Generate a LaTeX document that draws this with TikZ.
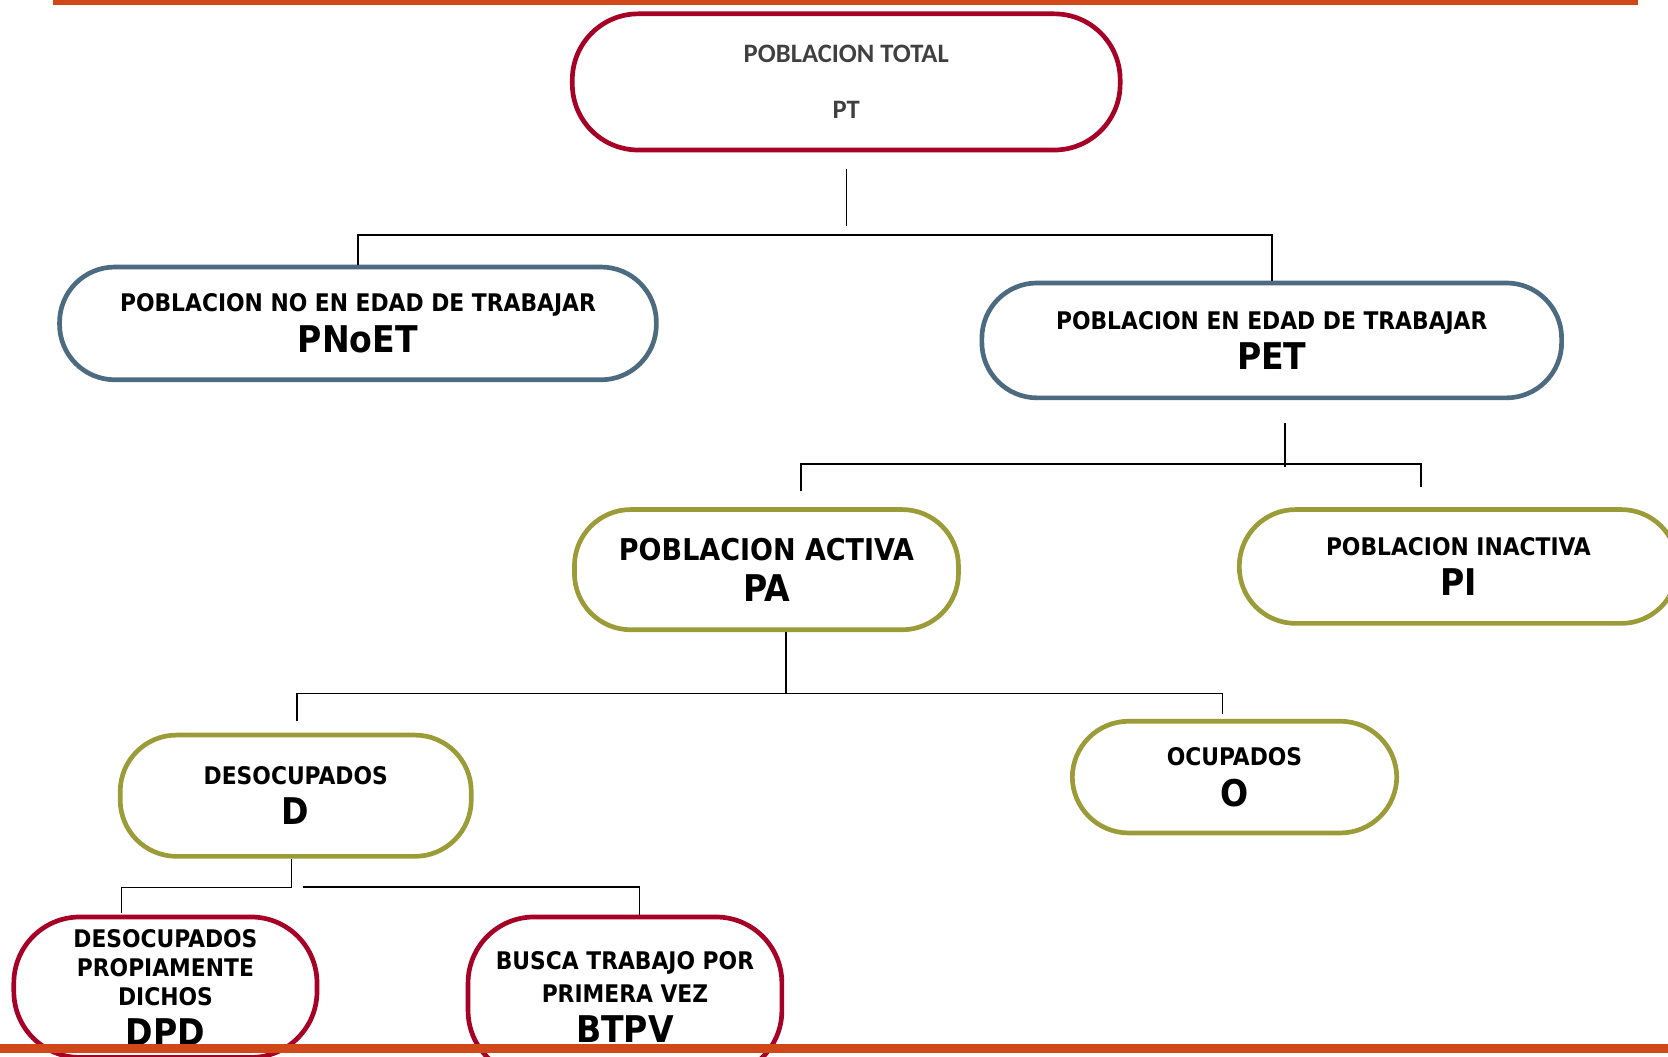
\documentclass[tikz,border=0pt]{standalone}
\usepackage{fontspec}
\newfontfamily\tahoma{DejaVu Sans Condensed}
\newfontfamily\calib{Carlito}
\definecolor{rojo}{RGB}{166,0,38}
\definecolor{azul}{RGB}{76,106,128}
\definecolor{oliva}{RGB}{155,155,56}
\definecolor{naranja}{RGB}{209,72,24}
\definecolor{gris}{RGB}{64,64,64}
\newcommand\letra{\fontsize{11.4}{13.7}\selectfont}
\newcommand\sigla{\fontsize{17.3}{20.8}\selectfont}
\tikzset{
	caja/.style={line width=2.2pt, fill=white, align=center, inner sep=0pt,
		font=\tahoma\bfseries\fontsize{11.4}{19}\selectfont},
	roja/.style={caja, draw=rojo, rounded corners=31pt},
	azulada/.style={caja, draw=azul, rounded corners=26pt},
	verde/.style={caja, draw=oliva, rounded corners=26.5pt},
	linea/.style={line width=0.7pt},
}

\begin{document}
\begin{tikzpicture}[x=0.5pt, y=-0.5pt]
	\useasboundingbox (0,0) rectangle (1568,993);
	\clip (0,0) rectangle (1568,993);

	\fill[naranja] (50,0) rectangle (1540,4.7);

	\node[roja, minimum width=257.5pt, minimum height=64pt,
		font=\calib\bfseries\fontsize{12.5}{26.5}\selectfont, text=gris]
		(pt) at (795.5,77) {POBLACION TOTAL\\PT};

	\node[azulada, minimum width=280.5pt, minimum height=53pt] (pnoet) at (336.5,304)
		{{\letra POBLACION NO EN EDAD DE TRABAJAR}\\{\sigla PNoET}};
	\node[azulada, minimum width=272.5pt, minimum height=54pt] (pet) at (1195.5,320)
		{{\letra POBLACION EN EDAD DE TRABAJAR}\\{\sigla PET}};

	\node[verde, minimum width=180.5pt, minimum height=56.5pt] (pa) at (720.5,535.5)
		{{\fontsize{14.1}{17}\selectfont POBLACION ACTIVA}\\{\sigla PA}};
	\node[verde, minimum width=206pt, minimum height=53.5pt] (pi) at (1371,532.5)
		{{\letra POBLACION INACTIVA}\\{\sigla PI}};

	\node[verde, minimum width=165pt, minimum height=57pt] (d) at (278,748)
		{{\letra DESOCUPADOS}\\{\sigla D}};
	\node[verde, minimum width=152.5pt, minimum height=52.5pt] (o) at (1160.5,730.5)
		{{\letra OCUPADOS}\\{\sigla O}};

	\node[roja, minimum width=142.5pt, minimum height=66pt,
		font=\tahoma\bfseries\fontsize{11.4}{13.75}\selectfont] (dpd) at (155.5,928)
		{{\letra DESOCUPADOS}\\{\letra PROPIAMENTE}\\{\letra DICHOS}\\[4.75pt]{\sigla DPD}};
	\node[roja, minimum width=147.5pt, minimum height=75pt,
		font=\tahoma\bfseries\fontsize{11.4}{15.5}\selectfont] (btpv) at (587.5,937)
		{{\letra BUSCA TRABAJO POR}\\{\letra PRIMERA VEZ}\\[3.5pt]{\sigla BTPV}};

	% ramas
	\coordinate (ramaA) at (753,462);
	\coordinate (ramaI) at (1336,458);
	\coordinate (ramaD) at (279,678);
	\coordinate (ramaO) at (1149,671);
	\coordinate (ramaP) at (114,858);
	\coordinate (ramaB) at (285,834);

	\draw[linea] ([yshift=-8pt]pt.south) -- ++(0,53);
	\draw[linea] (pnoet.north) -- ++(0,-28) -| (pet.north);

	\draw[linea] ([xshift=6.25pt, yshift=-10.5pt]pet.south) -- ++(0,42);
	\draw[linea] (ramaA) -- ++(0,-26) -| (ramaI);

	\draw[linea] ([xshift=9.25pt]pa.south) -- ++(0,58);
	\draw[linea] (ramaD) -- ++(0,-26) -| (ramaO);

	\draw[linea] ([xshift=-2pt]d.south) -- ++(0,27) -| (ramaP);
	\draw[linea] (ramaB) -| ([xshift=6.75pt]btpv.north);

	\fill[naranja] (0,981) rectangle (1568,990);
\end{tikzpicture}
\end{document}
